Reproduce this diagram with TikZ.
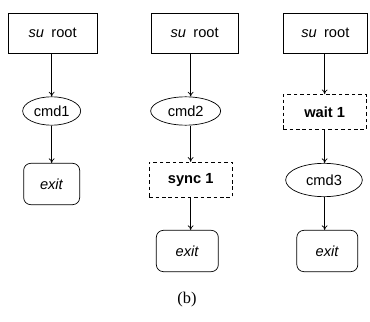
\documentclass[tikz,border=0pt]{standalone}
\usepackage{fontspec}
\setmainfont{Liberation Serif}
\setsansfont{Liberation Sans}
\usetikzlibrary{shapes.geometric, arrows.meta}

\begin{document}
\begin{tikzpicture}[
  line width = 0.6pt,
  label/.style = {font = \sffamily\fontsize{12.5}{15}\selectfont},
  block/.style = {rectangle, draw, label},
  cmd/.style = {ellipse, draw, inner sep = 0pt, label},
  done/.style = {rectangle, draw, rounded corners = 6pt, label},
  barrier/.style = {rectangle, draw, dash pattern = on 3pt off 2.5pt, label},
  flow/.style = {-{To[length = 4pt, width = 5pt]}}
]
  \useasboundingbox (0, 0) rectangle (11.1, 9.66);

  \node[block,   minimum width = 2.67cm, minimum height = 1.2cm]  (root1) at (1.58, 8.67) {\textit{su}\enspace root};
  \node[cmd,     minimum width = 1.74cm, minimum height = 0.85cm] (cmd1)  at (1.55, 6.33) {cmd1};
  \node[done,    minimum width = 1.68cm, minimum height = 1.24cm] (exit1) at (1.55, 4.14) {\textit{exit}};

  \node[block,   minimum width = 2.61cm, minimum height = 1.2cm]  (root2) at (5.84, 8.67) {\textit{su}\enspace root};
  \node[cmd,     minimum width = 2.1cm,  minimum height = 0.85cm] (cmd2)  at (5.57, 6.33) {cmd2};
  \node[barrier, minimum width = 2.49cm, minimum height = 1.05cm] (sync1) at (5.72, 4.27) {\textbf{sync 1}};
  \node[done,    minimum width = 1.86cm, minimum height = 1.24cm] (exit2) at (5.62, 2.13) {\textit{exit}};

  \node[block,   minimum width = 2.52cm, minimum height = 1.2cm]  (root3) at (9.76, 8.67) {\textit{su}\enspace root};
  \node[barrier, minimum width = 2.49cm, minimum height = 1.05cm] (wait1) at (9.74, 6.3)  {\textbf{wait 1}};
  \node[cmd,     minimum width = 2.3cm,  minimum height = 1.0cm]  (cmd3)  at (9.72, 4.26) {cmd3};
  \node[done,    minimum width = 1.83cm, minimum height = 1.24cm] (exit3) at (9.82, 2.13) {\textit{exit}};

  \node[font = \fontsize{14}{16}\selectfont] (caption) at (5.61, 0.66) {(b)};

  \draw[flow] (root1.south -| cmd1) -- (cmd1);
  \draw[flow] (cmd1) -- (exit1);
  \draw[flow] (root2.south -| sync1) -- (sync1 |- cmd2.north);
  \draw[flow] (sync1 |- cmd2.south) -- (sync1);
  \draw[flow] (sync1) -- (sync1 |- exit2.north);
  \draw[flow] (root3.south -| wait1) -- (wait1);
  \draw[flow] (wait1) -- (wait1 |- cmd3.north);
  \draw[flow] (wait1 |- cmd3.south) -- (wait1 |- exit3.north);
\end{tikzpicture}
\end{document}
